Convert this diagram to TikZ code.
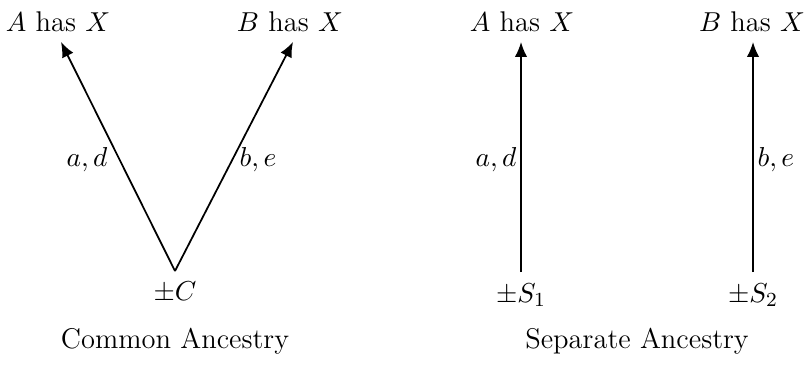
\documentclass[tikz,border=0pt]{standalone}
\usetikzlibrary{arrows.meta}
\begin{document}
\begin{tikzpicture}[x=0.4pt,y=-0.4pt,
  arr/.style={-{Latex[length=6pt,width=5pt]},line width=0.7pt},
  txt/.style={inner sep=0pt,font=\fontsize{11.4}{13}\selectfont}]
\useasboundingbox (0,0) rectangle (810,385);
% left: common ancestry
\node[txt] (A1) at (58,22) {$A$ has $X$};
\node[txt] (B1) at (290,22) {$B$ has $X$};
\node[txt,anchor=north] (C) at (175,281) {$\pm C$};
\coordinate (tA1) at (61,42);
\coordinate (tB1) at (293,42);
\path (C.north) ++(0,-10) coordinate (bC);
\draw[arr] (bC) -- (tA1);
\draw[arr] (bC) -- (tB1);
\node[txt] (ad1) at (87,160) {$a,d$};
\node[txt] (be1) at (258,160) {$b,e$};
\node[txt] (CA) at (175,341) {Common Ancestry};
% right: separate ancestry
\node[txt] (A2) at (522,22) {$A$ has $X$};
\node[txt] (B2) at (752,22) {$B$ has $X$};
\node[txt,anchor=north] (S1) at (521,283) {$\pm S_1$};
\node[txt,anchor=north] (S2) at (753,283) {$\pm S_2$};
\coordinate (tA2) at (521,42);
\coordinate (tB2) at (753,42);
\draw[arr] (S1.north) ++(0,-11) -- (tA2);
\draw[arr] (S2.north) ++(0,-11) -- (tB2);
\node[txt,anchor=east] (ad2) at (517,160) {$a,d$};
\node[txt,anchor=west] (be2) at (757,160) {$b,e$};
\node[txt] (SA) at (637,341) {Separate Ancestry};
\end{tikzpicture}
\end{document}
